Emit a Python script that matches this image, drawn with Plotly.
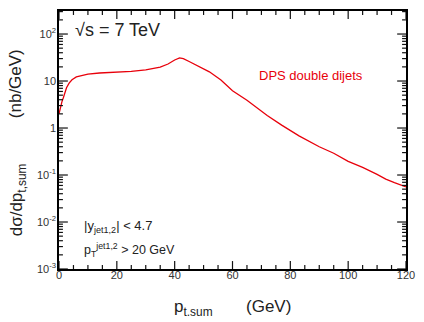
import plotly.graph_objects as go

# Data
pt_sum = [0, 0.5, 1, 1.5, 2, 2.6, 3.5, 4.5, 6, 8, 10, 14, 20, 25, 30, 33, 35, 37.7,
          40, 41.7, 43, 45, 48, 52, 56, 60, 65, 72, 77, 83, 90, 95, 100, 105, 110,
          113, 116, 118, 120]
dsigma = [2.0, 2.8, 3.6, 4.4, 5.8, 7.2, 9.0, 10.6, 12.2, 13.3, 14.0, 14.8, 15.4, 16.0,
          17.2, 18.5, 19.8, 23.0, 28.0, 31.0, 30.0, 26.0, 21.0, 15.7, 10.5, 6.2, 3.9,
          1.85, 1.15, 0.68, 0.40, 0.29, 0.195, 0.145, 0.103, 0.082, 0.069, 0.062, 0.056]

y_tickvals = [1e-3, 1e-2, 1e-1, 1, 10, 100]
y_ticktext = ["10<sup>-3</sup>", "10<sup>-2</sup>", "10<sup>-1</sup>", "1", "10", "10<sup>2</sup>"]
y_minor = [m * 10 ** e for e in range(-3, 3) for m in range(2, 10)]
x_tickvals = [0, 20, 40, 60, 80, 100, 120]
x_minor = [v for v in range(0, 121, 5) if v % 20]

FONT = "Liberation Sans, Arial, Helvetica, sans-serif"
RED = "#e8000b"
INK = "#222222"

W, H, L, R, T, B = 424, 322, 59, 12, 9, 53
PW, PH = W - L - R, H - T - B

fig = go.Figure()

# Inside tick marks on all four sides: drawn as line traces against the real
# axes, with helper pixel axes (x2 / y2) giving the tick lengths.
tx, ty = [], []
for v in x_tickvals + x_minor:
    ln = 8 if v in x_tickvals else 4
    tx += [v, v, None, v, v, None]
    ty += [0, ln, None, PH, PH - ln, None]
fig.add_trace(go.Scatter(x=tx, y=ty, xaxis="x", yaxis="y2", mode="lines",
                         line=dict(color="#111111", width=1.2), hoverinfo="skip",
                         showlegend=False))
sx, sy = [], []
for v in y_tickvals + y_minor:
    ln = 9 if v in y_tickvals else 4
    sx += [0, ln, None, PW, PW - ln, None]
    sy += [v, v, None, v, v, None]
fig.add_trace(go.Scatter(x=sx, y=sy, xaxis="x2", yaxis="y", mode="lines",
                         line=dict(color="#111111", width=1.2), hoverinfo="skip",
                         showlegend=False))

fig.add_trace(go.Scatter(x=pt_sum, y=dsigma, mode="lines",
                         line=dict(color=RED, width=1.3),
                         showlegend=False))

fig.update_layout(
    width=W, height=H,
    margin=dict(l=L, r=R, t=T, b=B),
    paper_bgcolor="white", plot_bgcolor="white",
    font=dict(family=FONT, color="#333333", size=11),
    xaxis=dict(range=[0, 120], tickmode="array", tickvals=x_tickvals, ticks="",
               showline=True, linecolor="black", linewidth=1.5, mirror=True,
               showgrid=False, zeroline=False, ticklabelstandoff=-5,
               tickfont=dict(size=11, color="#333333")),
    yaxis=dict(type="log", range=[-3, 2.49], tickmode="array", tickvals=y_tickvals,
               ticktext=y_ticktext, ticks="", showline=True, linecolor="black",
               linewidth=1.5, mirror=True, showgrid=False, zeroline=False,
               ticklabelstandoff=-1, tickfont=dict(size=11, color="#333333")),
    xaxis2=dict(range=[0, PW], overlaying="x", visible=False, showgrid=False,
                zeroline=False),
    yaxis2=dict(range=[0, PH], overlaying="y", visible=False, showgrid=False,
                zeroline=False),
)

ann = [
    dict(x=119, y=28, text="√s = 7 TeV", size=18, color=INK),
    dict(x=315, y=74, text="DPS double dijets", size=13, color=RED),
    dict(x=82, y=226, text="|y<sub>jet1,2</sub>| < 4.7", size=13, color=INK, xanchor="left"),
    dict(x=82, y=250, text="p<sub>T</sub><sup>jet1,2</sup> > 20 GeV", size=12.5, color=INK,
         xanchor="left"),
    dict(x=15, y=82, text="(nb/GeV)", textangle=-90, size=17, color=INK),
    dict(x=17, y=199, text="dσ/dp<sub>t,sum</sub>", textangle=-90, size=17, color=INK),
    dict(x=196, y=308, text="p<sub>t.sum</sub>", size=17, color=INK),
    dict(x=272, y=307, text="(GeV)", size=17, color=INK),
]
for a in ann:
    fig.add_annotation(
        xref="paper", yref="paper",
        x=(a["x"] - L) / PW, y=(H - B - a["y"]) / PH,
        text=a["text"], showarrow=False,
        font=dict(family=FONT, size=a["size"], color=a["color"]),
        textangle=a.get("textangle", 0), xanchor=a.get("xanchor", "center"),
        yanchor="middle")

fig.write_html("out.html")
